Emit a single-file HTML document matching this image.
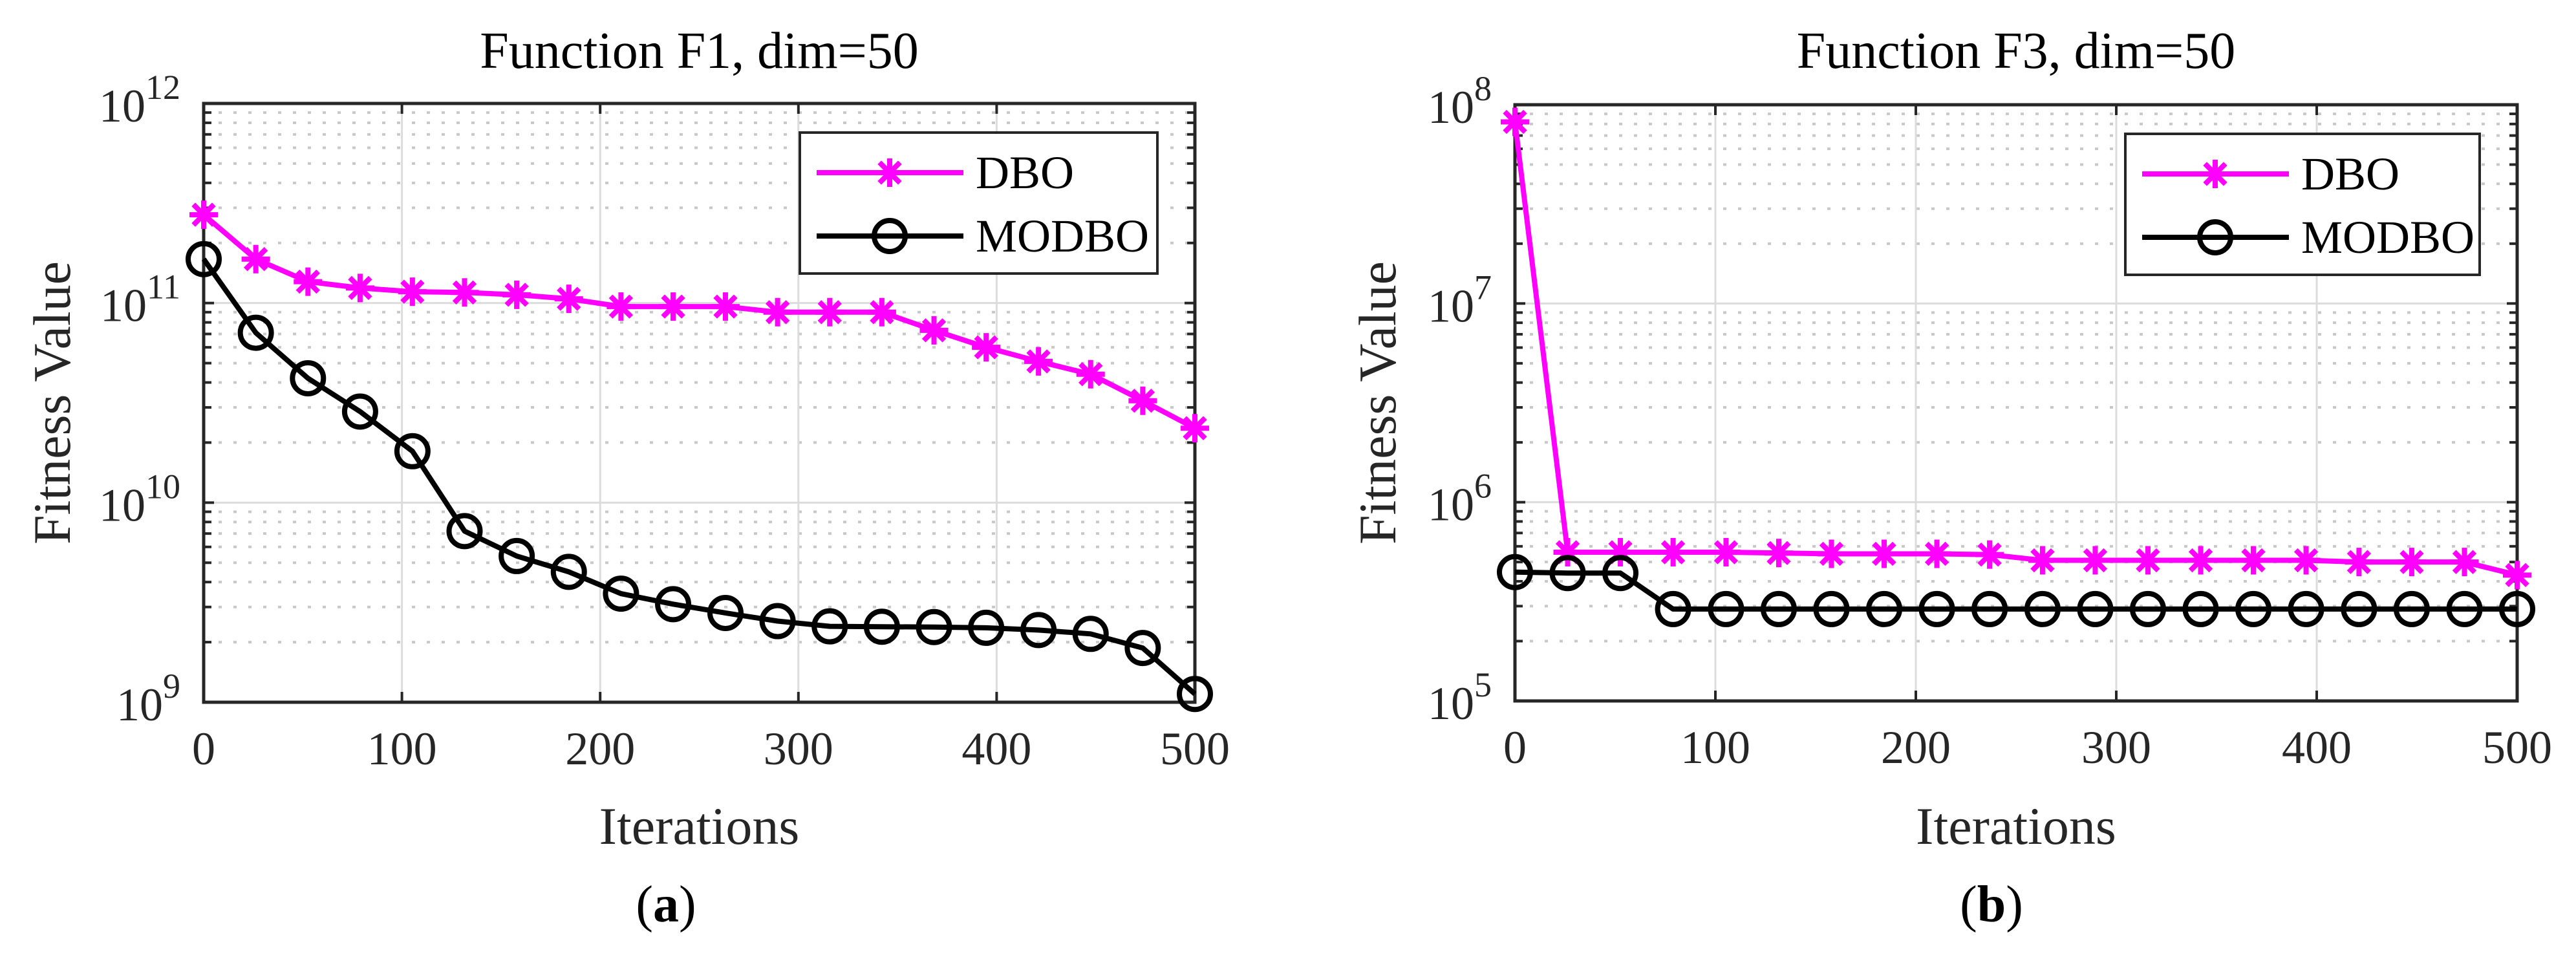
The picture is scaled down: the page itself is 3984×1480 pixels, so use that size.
<!DOCTYPE html>
<html><head><meta charset="utf-8"><style>
html,body{margin:0;padding:0;background:#fff;}
svg{display:block;font-family:"Liberation Serif",serif;}
</style></head><body>
<svg id="fig" width="3984" height="1480" viewBox="0 0 3984 1480"></svg>
<script>
const iterations = [0,26.3,52.6,78.9,105.3,131.6,157.9,184.2,210.5,236.8,263.2,289.5,315.8,342.1,368.4,394.7,421.1,447.4,473.7,500];
const f1DBO = [2.77e11,1.66e11,1.28e11,1.19e11,1.14e11,1.13e11,1.10e11,1.05e11,9.6e10,9.6e10,9.6e10,9.0e10,9.0e10,9.0e10,7.3e10,6.0e10,5.1e10,4.4e10,3.24e10,2.36e10];
const f1MODBO = [1.66e11,7.1e10,4.2e10,2.86e10,1.81e10,7.2e9,5.4e9,4.5e9,3.5e9,3.1e9,2.8e9,2.55e9,2.4e9,2.39e9,2.38e9,2.36e9,2.3e9,2.2e9,1.87e9,1.1e9];
const f3DBO = [8.2e7,5.6e5,5.6e5,5.6e5,5.6e5,5.55e5,5.5e5,5.5e5,5.5e5,5.45e5,5.1e5,5.1e5,5.1e5,5.1e5,5.1e5,5.1e5,5.0e5,5.0e5,5.0e5,4.3e5];
const f3MODBO = [4.45e5,4.4e5,4.4e5,2.9e5,2.9e5,2.9e5,2.9e5,2.9e5,2.9e5,2.9e5,2.9e5,2.9e5,2.9e5,2.9e5,2.9e5,2.9e5,2.9e5,2.9e5,2.9e5,2.9e5];
const xTicks = [0,100,200,300,400,500];
const f1Decades = [9,10,11,12];
const f3Decades = [5,6,7,8];
const seriesNames = ["DBO","MODBO"];

const NS="http://www.w3.org/2000/svg";
const svg=document.getElementById('fig');
function el(tag,attrs,parent){const e=document.createElementNS(NS,tag);for(const k in attrs)e.setAttribute(k,attrs[k]);(parent||svg).appendChild(e);return e;}

function panel(p){
  const g=el('g',{});
  
  
  const L=p.L,R=p.R,T=p.T,B=p.B;
  const lo=p.decades[0],hi=p.decades[p.decades.length-1];
  const xs=v=>L+(v-0)/(500-0)*(R-L);
  const ys=v=>B-(Math.log10(v)-lo)/(hi-lo)*(B-T);
  for(let d=lo;d<hi;d++){for(let m=2;m<=9;m++){const y=ys(m*Math.pow(10,d));
    const ln=el('line',{x1:L,x2:R,y1:y,y2:y,stroke:'#c8c8c8','stroke-width':4,'stroke-dasharray':'5 18'},g);
    
    const t1=el('line',{x1:L,x2:L+12,y1:y,y2:y,stroke:'#262626','stroke-width':4},g);
    
    const t2=el('line',{x1:R-12,x2:R,y1:y,y2:y,stroke:'#262626','stroke-width':4},g);
    }}
  p.decades.forEach(d=>{const y=ys(Math.pow(10,d));
    const ln=el('line',{x1:L,x2:R,y1:y,y2:y,stroke:'#dcdcdc','stroke-width':3},g);
    
    el('line',{x1:L,x2:L+16,y1:y,y2:y,stroke:'#262626','stroke-width':4},g);
    el('line',{x1:R-16,x2:R,y1:y,y2:y,stroke:'#262626','stroke-width':4},g);
    const tx=el('text',{x:L-36,y:y+28,'text-anchor':'end','font-size':72,fill:'#262626'},g);
    
    tx.innerHTML='10<tspan dy="-35" font-size="54">'+d+'</tspan>';
  });
  xTicks.forEach(v=>{const x=xs(v);
    const ln=el('line',{x1:x,x2:x,y1:T,y2:B,stroke:'#dcdcdc','stroke-width':3},g);
    
    el('line',{x1:x,x2:x,y1:B-16,y2:B,stroke:'#262626','stroke-width':4},g);
    el('line',{x1:x,x2:x,y1:T,y2:T+16,stroke:'#262626','stroke-width':4},g);
    const tx=el('text',{x:x,y:B+96,'text-anchor':'middle','font-size':72,fill:'#262626'},g);
    
    tx.textContent=String(v);
  });
  const box=el('rect',{x:L,y:T,width:R-L,height:B-T,fill:'none',stroke:'#262626','stroke-width':5},g);
  
  function star(cx,cy,par){const s=22;const sg=el('g',{stroke:'#ff00ff','stroke-width':8},par);
    el('line',{x1:cx-s,x2:cx+s,y1:cy,y2:cy},sg);el('line',{x1:cx,x2:cx,y1:cy-s,y2:cy+s},sg);
    el('line',{x1:cx-s*0.72,x2:cx+s*0.72,y1:cy-s*0.72,y2:cy+s*0.72},sg);el('line',{x1:cx-s*0.72,x2:cx+s*0.72,y1:cy+s*0.72,y2:cy-s*0.72},sg);return sg;}
  function circ(cx,cy,par){return el('circle',{cx:cx,cy:cy,r:24,fill:'none',stroke:'#000','stroke-width':8},par);}
  const d1=p.dbo.map((v,i)=>xs(iterations[i])+','+ys(v)).join(' ');
  const l1=el('polyline',{points:d1,fill:'none',stroke:'#ff00ff','stroke-width':8,'stroke-linejoin':'round'},g);
  
  p.dbo.forEach((v,i)=>{const m=star(xs(iterations[i]),ys(v),g);});
  const d2=p.modbo.map((v,i)=>xs(iterations[i])+','+ys(v)).join(' ');
  const l2=el('polyline',{points:d2,fill:'none',stroke:'#000','stroke-width':8,'stroke-linejoin':'round'},g);
  
  p.modbo.forEach((v,i)=>{const m=circ(xs(iterations[i]),ys(v),g);});
  const lg=el('g',{},g);
  
  el('rect',{x:p.lx,y:T+45,width:p.lw,height:218,fill:'#fff',stroke:'#262626','stroke-width':4},lg);
  const e1=el('line',{x1:p.lx+26,x2:p.lx+253,y1:T+107,y2:T+107,stroke:'#ff00ff','stroke-width':8},lg);
  
  star(p.lx+139,T+107,lg);
  const t1=el('text',{x:p.lx+272,y:T+131,'font-size':72,fill:'#000'},lg);
  t1.textContent=seriesNames[0];
  const e2=el('line',{x1:p.lx+26,x2:p.lx+253,y1:T+205,y2:T+205,stroke:'#000','stroke-width':8},lg);
  
  circ(p.lx+139,T+205,lg);
  const t2=el('text',{x:p.lx+272,y:T+229,'font-size':72,fill:'#000'},lg);
  t2.textContent=seriesNames[1];
  const cx=(L+R)/2;
  const tt=el('text',{x:cx,y:105,'text-anchor':'middle','font-size':80,fill:'#000'},g);
  tt.textContent=p.title;
  const xt=el('text',{x:cx,y:1305,'text-anchor':'middle','font-size':82,fill:'#262626'},g);
  xt.textContent='Iterations';
  const yt=el('text',{x:0,y:0,'text-anchor':'middle','font-size':82,fill:'#262626',transform:'translate('+(p.yx)+','+((T+B)/2)+') rotate(-90)'},g);
  yt.textContent='Fitness Value';
  const cap=el('text',{x:p.capx,y:1425,'text-anchor':'middle','font-size':80,fill:'#000'},g);
  
  cap.innerHTML='(<tspan font-weight="bold">'+p.cap+'</tspan>)';
}
panel({id:'f1',L:315,R:1848,T:160,B:1086,decades:f1Decades,dbo:f1DBO,modbo:f1MODBO,lx:1237,lw:553,title:'Function F1, dim=50',yx:108,capx:1030,cap:'a'});
panel({id:'f3',L:2343,R:3893,T:162,B:1084,decades:f3Decades,dbo:f3DBO,modbo:f3MODBO,lx:3287,lw:548,title:'Function F3, dim=50',yx:2158,capx:3080,cap:'b'});
</script>
</body></html>
